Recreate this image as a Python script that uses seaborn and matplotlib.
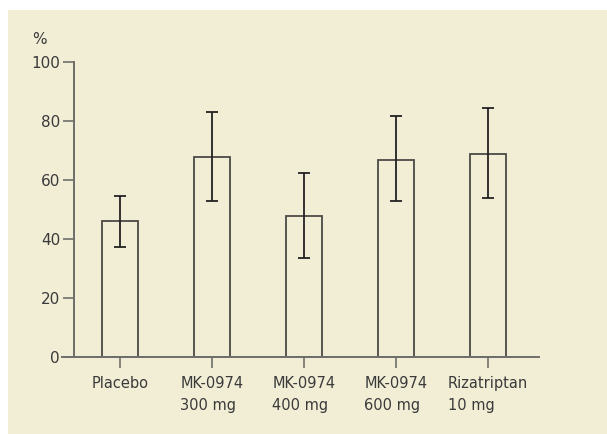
import numpy as np
import pandas as pd
import seaborn as sns
import matplotlib.pyplot as plt
from matplotlib.patches import Rectangle

# values
groups = ['Placebo', 'MK-0974\n300 mg', 'MK-0974\n400 mg', 'MK-0974\n600 mg', 'Rizatriptan\n10 mg']
response = [46.0, 67.8, 48.0, 67.0, 69.0]
err_low = [37.2, 52.9, 33.7, 52.9, 54.1]
err_high = [54.8, 83.1, 62.3, 81.9, 84.5]
y_ticks = [0, 20, 40, 60, 80, 100]

bg = '#F2EED6'
text_col = '#3a3a3a'
axis_col = '#6e6e6a'

sns.set_style('ticks')
plt.rcParams['font.family'] = ['DejaVu Sans']

fig = plt.figure(figsize=(6.07, 4.34), dpi=100, facecolor='white')
fig.patches.append(Rectangle((8 / 607, 0), 1, 1 - 10 / 434, transform=fig.transFigure,
                             facecolor=bg, edgecolor='none', zorder=-10))
ax = fig.add_axes([62 / 607, 1 - 357 / 434, (539 - 62) / 607, (357 - 62.3) / 434])
ax.set_facecolor('none')

df = pd.DataFrame({'group': groups, 'response': response})
sns.barplot(data=df, x='group', y='response', ax=ax, fill=False, color='#4a4a46',
            width=0.4, errorbar=None, linewidth=1.3)

# asymmetric error bars
mid = np.array(response)
yerr = [mid - np.array(err_low), np.array(err_high) - mid]
ax.errorbar(np.arange(len(groups)), mid, yerr=yerr, fmt='none', ecolor='#222222',
            elinewidth=1.3, capsize=4, capthick=1.3, zorder=5)

ax.set_xlim(-0.63, 4.555)
ax.set_ylim(0, 100)
ax.set_yticks(y_ticks)
ax.set_xlabel('')
ax.set_ylabel('')

for s in ['top', 'right']:
    ax.spines[s].set_visible(False)
ax.spines['left'].set_position(('data', -0.5))
for s in ['left', 'bottom']:
    ax.spines[s].set_color(axis_col)
    ax.spines[s].set_linewidth(1.4)

ax.tick_params(axis='y', length=8, width=1.2, color=axis_col, pad=2,
               labelsize=11, labelcolor=text_col)
ax.tick_params(axis='x', length=8, width=1.2, color=axis_col, pad=6,
               labelsize=10.5, labelcolor=text_col)
for lab in ax.get_xticklabels():
    lab.set_multialignment('left')
    lab.set_linespacing(1.55)

fig.text(32 / 607, 1 - 32 / 434, '%', fontsize=11, color=text_col, va='top', ha='left')

fig.savefig('out.png', dpi=100, facecolor='white')
